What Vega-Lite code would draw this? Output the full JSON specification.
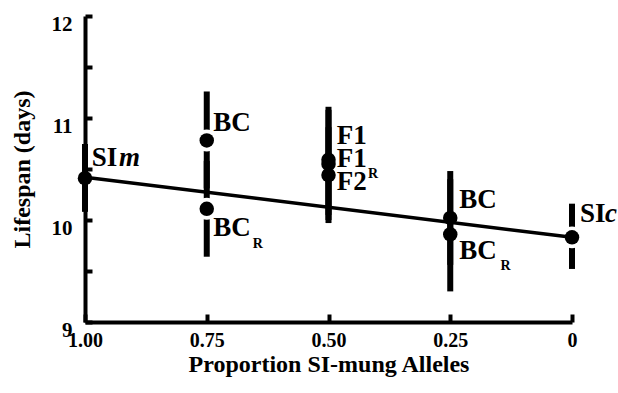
{
  "$schema": "https://vega.github.io/schema/vega-lite/v6.json",
  "width": 487,
  "height": 306,
  "autosize": {"type": "none"},
  "padding": {"left": 85, "top": 16, "right": 46, "bottom": 71},
  "background": "white",
  "config": {
    "view": {"stroke": null},
    "font": "Liberation Serif",
    "axis": {
      "domainColor": "black", "domainWidth": 4, "tickColor": "black", "tickWidth": 4,
      "labelColor": "black", "labelFont": "Liberation Serif", "labelFontWeight": "bold",
      "titleColor": "black", "titleFont": "Liberation Serif", "titleFontWeight": "bold",
      "grid": false
    }
  },
  "datasets": {
    "pts": [
      {"p": 1.0, "life": 10.41, "lo": 10.08, "hi": 10.745, "name": "SIm"},
      {"p": 0.75, "life": 10.78, "lo": 10.31, "hi": 11.26, "name": "BC"},
      {"p": 0.75, "life": 10.11, "lo": 9.64, "hi": 10.58, "name": "BCR"},
      {"p": 0.5, "life": 10.59, "lo": 10.05, "hi": 11.11, "name": "F1"},
      {"p": 0.5, "life": 10.55, "lo": 10.0, "hi": 11.08, "name": "F1R"},
      {"p": 0.5, "life": 10.44, "lo": 9.97, "hi": 10.91, "name": "F2R"},
      {"p": 0.25, "life": 10.02, "lo": 9.56, "hi": 10.48, "name": "BC"},
      {"p": 0.25, "life": 9.86, "lo": 9.3, "hi": 10.4, "name": "BCR"},
      {"p": 0.0, "life": 9.83, "lo": 9.52, "hi": 10.16, "name": "SIc"}
    ],
    "fit": [
      {"p": 1.0, "life": 10.42},
      {"p": 0.0, "life": 9.83}
    ],
    "labels": [
      {"p": 0.986, "life": 10.61, "t": "SI"},
      {"p": 0.7365, "life": 10.95, "t": "BC"},
      {"p": 0.7365, "life": 9.92, "t": "BC"},
      {"p": 0.4832, "life": 10.824, "t": "F1"},
      {"p": 0.4832, "life": 10.598, "t": "F1"},
      {"p": 0.4832, "life": 10.37, "t": "F2"},
      {"p": 0.2314, "life": 10.2, "t": "BC"},
      {"p": 0.2314, "life": 9.696, "t": "BC"},
      {"p": -0.0164, "life": 10.06, "t": "SI"}
    ],
    "italics": [
      {"p": 0.93, "life": 10.61, "t": "m"},
      {"p": -0.0678, "life": 10.06, "t": "c"}
    ],
    "subs": [
      {"p": 0.6555, "life": 9.765, "t": "R"},
      {"p": 0.419, "life": 10.45, "t": "R"},
      {"p": 0.147, "life": 9.55, "t": "R"}
    ]
  },
  "encoding": {
    "x": {
      "field": "p", "type": "quantitative",
      "scale": {"domain": [1, 0], "nice": false, "zero": false},
      "axis": {
        "values": [1, 0.75, 0.5, 0.25, 0],
        "labelExpr": "datum.value == 0 ? '0' : format(datum.value, '.2f')",
        "tickSize": -8, "labelPadding": 16, "labelFontSize": 20,
        "title": "Proportion SI-mung Alleles", "titleFontSize": 24, "titlePadding": 2,
        "labelFlush": false
      }
    },
    "y": {
      "field": "life", "type": "quantitative",
      "scale": {"domain": [9, 12], "nice": false, "zero": false},
      "axis": {
        "values": [9, 9.5, 10, 10.5, 11, 11.5, 12],
        "labelExpr": "datum.value % 1 == 0 ? format(datum.value, 'd') : ''",
        "tickSize": -7, "labelPadding": 20, "labelFontSize": 21,
        "labelBaseline": "top", "labelOffset": -3,
        "title": "Lifespan (days)", "titleFontSize": 24, "titlePadding": 17
      }
    }
  },
  "layer": [
    {
      "data": {"name": "pts"},
      "mark": {"type": "rule", "strokeWidth": 6, "color": "black"},
      "encoding": {"y": {"field": "lo", "type": "quantitative"}, "y2": {"field": "hi"}}
    },
    {
      "data": {"name": "pts"},
      "transform": [{"filter": "datum.p == 0.75 || datum.p == 0"}],
      "mark": {"type": "point", "filled": true, "shape": "circle", "color": "white", "opacity": 1, "size": 480},
      "encoding": {}
    },
    {
      "data": {"name": "fit"},
      "mark": {"type": "line", "strokeWidth": 3.5, "color": "black"},
      "encoding": {}
    },
    {
      "data": {"name": "pts"},
      "mark": {"type": "point", "filled": true, "shape": "circle", "color": "black", "opacity": 1, "size": 210},
      "encoding": {}
    },
    {
      "data": {"name": "labels"},
      "mark": {"type": "text", "align": "left", "baseline": "middle", "fontSize": 27, "fontWeight": "bold", "font": "Liberation Serif", "color": "black"},
      "encoding": {"text": {"field": "t"}}
    },
    {
      "data": {"name": "italics"},
      "mark": {"type": "text", "align": "left", "baseline": "middle", "fontSize": 27, "fontWeight": "bold", "fontStyle": "italic", "font": "Liberation Serif", "color": "black"},
      "encoding": {"text": {"field": "t"}}
    },
    {
      "data": {"name": "subs"},
      "mark": {"type": "text", "align": "left", "baseline": "middle", "fontSize": 14, "fontWeight": "bold", "font": "Liberation Serif", "color": "black"},
      "encoding": {"text": {"field": "t"}}
    }
  ]
}
